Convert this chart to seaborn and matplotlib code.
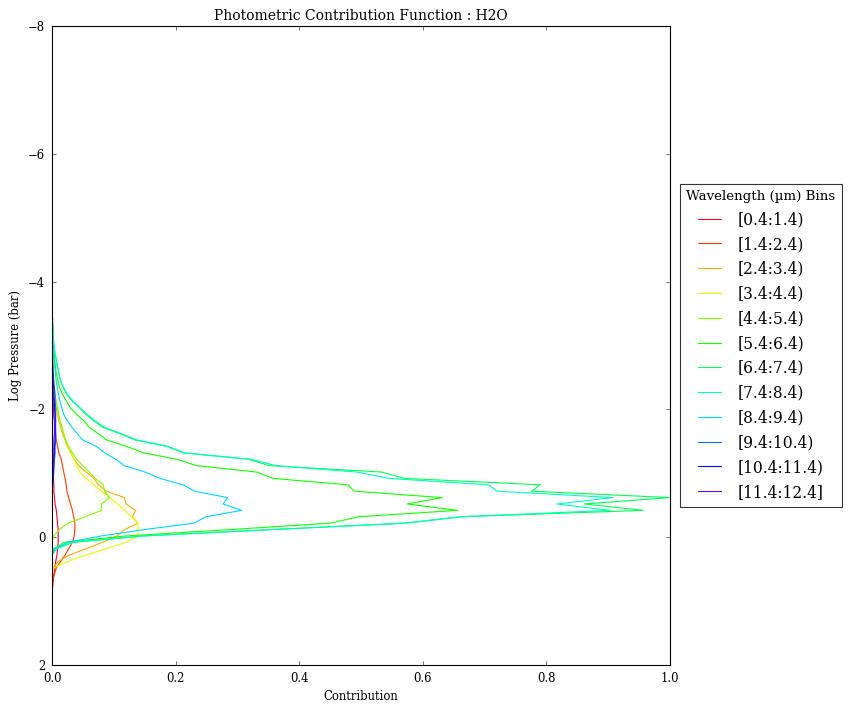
import numpy as np
import matplotlib
matplotlib.use("Agg")
import matplotlib.pyplot as plt
import seaborn as sns

# log pressure levels (bar), shared by all bins
log_p = [-3.52, -3.42, -3.32, -3.22, -3.12, -3.02, -2.92, -2.82, -2.72, -2.62,
         -2.52, -2.42, -2.32, -2.22, -2.12, -2.02, -1.92, -1.82, -1.72, -1.62,
         -1.52, -1.42, -1.32, -1.22, -1.12, -1.02, -0.92, -0.82, -0.72, -0.62,
         -0.52, -0.42, -0.32, -0.22, -0.12, -0.02, 0.08, 0.18, 0.28, 0.38,
         0.48, 0.58, 0.68, 0.78, 0.88]

bin_labels = ["[0.4:1.4)", "[1.4:2.4)", "[2.4:3.4)", "[3.4:4.4)", "[4.4:5.4)",
              "[5.4:6.4)", "[6.4:7.4)", "[7.4:8.4)", "[8.4:9.4)", "[9.4:10.4)",
              "[10.4:11.4)", "[11.4:12.4]"]

# normalised contribution per bin
c_0_4 = [0, 0, 0, 0, 0, 0, 0, 0, 0, 0,
         0, 0, 0, 0, 0, 0, 0, 0, 0.0005, 0.0005,
         0.0005, 0.001, 0.001, 0.001, 0.0015, 0.002, 0.002, 0.003, 0.003, 0.004,
         0.005, 0.007, 0.008, 0.009, 0.010, 0.010, 0.010, 0.009, 0.008, 0.006,
         0.005, 0.003, 0.002, 0.001, 0]
c_1_4 = [0, 0, 0, 0, 0, 0, 0, 0, 0, 0.0005,
         0.001, 0.001, 0.0015, 0.002, 0.002, 0.003, 0.003, 0.004, 0.005, 0.006,
         0.007, 0.009, 0.011, 0.015, 0.017, 0.019, 0.021, 0.023, 0.024, 0.027,
         0.030, 0.033, 0.035, 0.037, 0.037, 0.036, 0.033, 0.027, 0.021, 0.014,
         0.007, 0.004, 0.001, 0, 0]
c_2_4 = [0, 0, 0, 0, 0, 0, 0.0005, 0.001, 0.001, 0.001,
         0.0015, 0.002, 0.003, 0.004, 0.005, 0.007, 0.009, 0.011, 0.014, 0.017,
         0.021, 0.025, 0.030, 0.036, 0.043, 0.055, 0.068, 0.075, 0.088, 0.117,
         0.120, 0.135, 0.130, 0.139, 0.118, 0.105, 0.082, 0.055, 0.028, 0.010,
         0.002, 0, 0, 0, 0]
c_3_4 = [0, 0, 0, 0, 0, 0.0005, 0.001, 0.001, 0.001, 0.0015,
         0.002, 0.003, 0.004, 0.005, 0.007, 0.008, 0.010, 0.013, 0.016, 0.019,
         0.022, 0.026, 0.031, 0.036, 0.040, 0.045, 0.055, 0.068, 0.080, 0.093,
         0.106, 0.118, 0.128, 0.139, 0.139, 0.139, 0.120, 0.088, 0.055, 0.025,
         0.003, 0, 0, 0, 0]
c_4_4 = [0, 0, 0, 0, 0, 0.0005, 0.001, 0.001, 0.001, 0.0015,
         0.002, 0.003, 0.004, 0.005, 0.007, 0.009, 0.011, 0.013, 0.016, 0.019,
         0.022, 0.027, 0.033, 0.040, 0.050, 0.060, 0.070, 0.083, 0.085, 0.093,
         0.080, 0.080, 0.054, 0.026, 0.012, 0.003, 0, 0, 0, 0,
         0, 0, 0, 0, 0]
c_5_4 = [0, 0.0005, 0.001, 0.001, 0.002, 0.002, 0.003, 0.004, 0.005, 0.006,
         0.008, 0.010, 0.013, 0.018, 0.024, 0.030, 0.040, 0.052, 0.060, 0.075,
         0.089, 0.121, 0.148, 0.202, 0.234, 0.331, 0.358, 0.479, 0.489, 0.631,
         0.575, 0.656, 0.496, 0.451, 0.290, 0.120, 0.020, 0.003, 0, 0,
         0, 0, 0, 0, 0]
c_6_4 = [0, 0.001, 0.001, 0.002, 0.002, 0.003, 0.004, 0.006, 0.008, 0.010,
         0.012, 0.015, 0.019, 0.025, 0.034, 0.045, 0.055, 0.068, 0.082, 0.110,
         0.135, 0.186, 0.212, 0.318, 0.352, 0.533, 0.571, 0.790, 0.776, 1.000,
         0.861, 0.957, 0.663, 0.574, 0.360, 0.147, 0.030, 0.005, 0, 0,
         0, 0, 0, 0, 0]
c_7_4 = [0, 0.001, 0.001, 0.002, 0.002, 0.003, 0.004, 0.006, 0.008, 0.010,
         0.012, 0.015, 0.020, 0.026, 0.035, 0.046, 0.057, 0.070, 0.085, 0.112,
         0.138, 0.188, 0.214, 0.322, 0.362, 0.493, 0.545, 0.706, 0.720, 0.908,
         0.817, 0.903, 0.660, 0.570, 0.355, 0.150, 0.035, 0.008, 0, 0,
         0, 0, 0, 0, 0]
c_8_4 = [0, 0.0005, 0.001, 0.001, 0.0015, 0.002, 0.002, 0.003, 0.004, 0.005,
         0.006, 0.007, 0.009, 0.011, 0.013, 0.016, 0.019, 0.025, 0.032, 0.041,
         0.050, 0.072, 0.085, 0.103, 0.117, 0.150, 0.175, 0.212, 0.231, 0.284,
         0.277, 0.307, 0.249, 0.230, 0.150, 0.080, 0.025, 0.004, 0, 0,
         0, 0, 0, 0, 0]
c_9_4 = [0, 0, 0, 0, 0, 0, 0.0005, 0.001, 0.001, 0.0015,
         0.002, 0.003, 0.004, 0.005, 0.005, 0.006, 0.006, 0.006, 0.006, 0.006,
         0.006, 0.005, 0.005, 0.004, 0.003, 0.003, 0.002, 0.001, 0.0005, 0,
         0, 0, 0, 0, 0, 0, 0, 0, 0, 0,
         0, 0, 0, 0, 0]
c_10_4 = [0, 0, 0, 0, 0, 0, 0, 0.0005, 0.001, 0.001,
          0.0015, 0.002, 0.003, 0.003, 0.004, 0.004, 0.005, 0.005, 0.005, 0.005,
          0.005, 0.004, 0.004, 0.003, 0.003, 0.002, 0.002, 0.001, 0, 0,
          0, 0, 0, 0, 0, 0, 0, 0, 0, 0,
          0, 0, 0, 0, 0]
c_11_4 = [0, 0, 0, 0, 0, 0, 0, 0, 0.0005, 0.001,
          0.001, 0.0015, 0.002, 0.002, 0.003, 0.003, 0.003, 0.004, 0.004, 0.004,
          0.003, 0.003, 0.003, 0.002, 0.002, 0.0015, 0.001, 0.0005, 0, 0,
          0, 0, 0, 0, 0, 0, 0, 0, 0, 0,
          0, 0, 0, 0, 0]

contributions = [c_0_4, c_1_4, c_2_4, c_3_4, c_4_4, c_5_4,
                 c_6_4, c_7_4, c_8_4, c_9_4, c_10_4, c_11_4]

sns.set_style("ticks")
plt.rcParams.update({
    "font.family": ["DejaVu Serif"],
    "mathtext.fontset": "dejavuserif",
    "text.color": "black",
    "axes.labelcolor": "black",
    "axes.edgecolor": "black",
    "axes.linewidth": 1.0,
    "xtick.color": "black",
    "ytick.color": "black",
    "xtick.direction": "in",
    "ytick.direction": "in",
    "xtick.top": True,
    "ytick.right": True,
    "xtick.major.size": 4,
    "ytick.major.size": 4,
    "xtick.major.width": 0.5,
    "ytick.major.width": 0.5,
    "xtick.major.pad": 6,
    "ytick.major.pad": 6,
})

colors = plt.cm.gist_rainbow(np.linspace(0, 1, 14)[:12])

fig = plt.figure(figsize=(10.6, 8.875), dpi=80)
ax = fig.add_axes([52 / 848, 45 / 710, 618 / 848, 639 / 710])

for vals, lab, col in zip(contributions, bin_labels, colors):
    sns.lineplot(x=vals, y=log_p, sort=False, estimator=None,
                 color=col, linewidth=1.0, label=lab, ax=ax)

ax.set_xlim(0, 1)
ax.set_ylim(2, -8)
ax.set_yticks([-8, -6, -4, -2, 0, 2])
ax.set_xticks([0.0, 0.2, 0.4, 0.6, 0.8, 1.0])
ax.tick_params(labelsize=10.5)

ax.set_title("Photometric Contribution Function : H2O", fontsize=12.5, pad=5)
ax.set_xlabel("Contribution", fontsize=10.5, labelpad=4.5)
ax.set_ylabel("Log Pressure (bar)", fontsize=10.5, labelpad=5.5)

leg = ax.legend(loc="center left", bbox_to_anchor=(1.0, 0.5), fontsize=14,
                title="Wavelength (\u00b5m) Bins", title_fontsize=12,
                frameon=True, fancybox=False, edgecolor="black",
                handlelength=1.5, handletextpad=1.1, borderaxespad=0.65)
leg.get_frame().set_linewidth(1.0)

fig.savefig("out.png", dpi=80, facecolor="white")
